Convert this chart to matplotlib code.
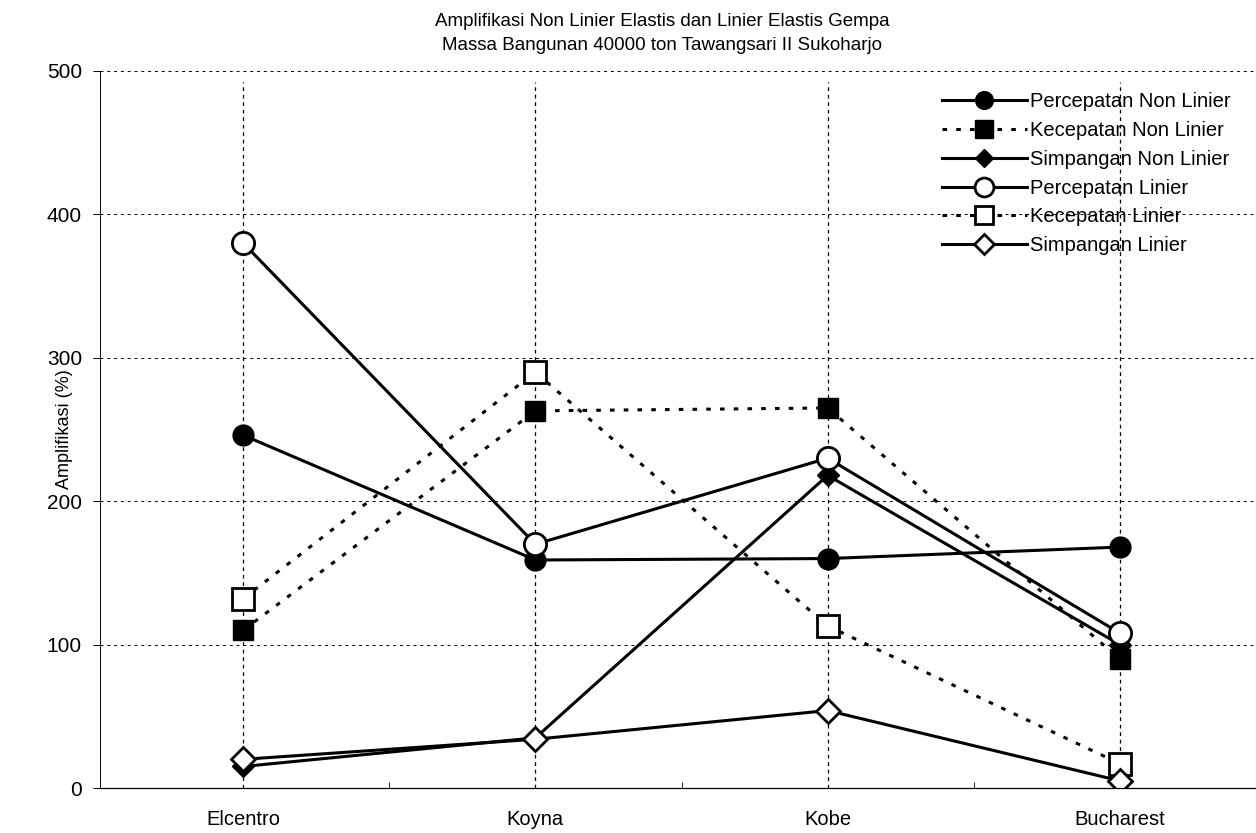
import matplotlib
matplotlib.use('Agg')
from matplotlib import pyplot as plt

plt.rcParams['font.family'] = ['Liberation Sans', 'DejaVu Sans']

gempa = ['Elcentro', 'Koyna', 'Kobe', 'Bucharest']

percepatan_nl = [246, 159, 160, 168]
kecepatan_nl = [110, 263, 265, 90]
simpangan_nl = [15, 35, 218, 100]
percepatan_l = [380, 170, 230, 108]
kecepatan_l = [132, 290, 113, 17]
simpangan_l = [20, 34, 54, 5]

fig = plt.figure(figsize=(12.56, 8.33), dpi=100)
ax = fig.add_axes([100 / 1256, 45 / 833, 1166 / 1256, 717 / 833])

x = range(len(gempa))
dot = (0, (1.5, 3))
lw = 2.2

# garis dan penanda tiap seri
ax.plot(x, percepatan_nl, color='black', lw=lw, marker='o', ms=15,
        mfc='black', mec='black', label='Percepatan Non Linier')
ax.plot(x, kecepatan_nl, color='black', lw=lw, ls=dot, marker='s', ms=15,
        mfc='black', mec='black', label='Kecepatan Non Linier')
ax.plot(x, simpangan_nl, color='black', lw=lw, marker='D', ms=11,
        mfc='black', mec='black', label='Simpangan Non Linier')
ax.plot(x, percepatan_l, color='black', lw=lw, marker='o', ms=16,
        mfc='white', mec='black', mew=2.0, label='Percepatan Linier')
ax.plot(x, kecepatan_l, color='black', lw=lw, ls=dot, marker='s', ms=16,
        mfc='white', mec='black', mew=2.0, label='Kecepatan Linier')
ax.plot(x, simpangan_l, color='black', lw=lw, marker='D', ms=12,
        mfc='white', mec='black', mew=2.0, label='Simpangan Linier')

# grid putus-putus
for v in [100, 200, 300, 400, 500]:
    ax.axhline(v, color='black', lw=0.7, ls=(0, (3, 4)), zorder=0)
for i in x:
    ax.axvline(i, color='black', lw=0.9, ls=(0, (3, 3)), zorder=0, ymax=0.985)

ax.set_ylim(0, 500)
ax.set_xlim(-0.49, 3.50)
ax.set_yticks([0, 100, 200, 300, 400, 500])
ax.set_xticks(list(x))
ax.set_xticklabels(gempa, fontsize=14.5)
ax.set_xticks([0.5, 1.5, 2.5], minor=True)
ax.tick_params(axis='x', which='major', length=0, pad=16)
ax.tick_params(axis='x', which='minor', length=4, direction='in')
ax.tick_params(axis='y', labelsize=15, length=5, width=0.7, pad=8)

for s in ['top', 'right']:
    ax.spines[s].set_visible(False)
ax.spines['left'].set_linewidth(0.7)
ax.spines['bottom'].set_linewidth(0.9)

ax.set_ylabel('Amplifikasi (%)', fontsize=13)
ax.yaxis.set_label_coords(-0.0232, 0.5)

fig.text(662 / 1256, 1 - 22 / 833, 'Amplifikasi Non Linier Elastis dan Linier Elastis Gempa',
         ha='center', va='center', fontsize=13.5)
fig.text(662 / 1256, 1 - 45 / 833, 'Massa Bangunan 40000 ton Tawangsari II Sukoharjo',
         ha='center', va='center', fontsize=13.5)

leg = ax.legend(loc='upper left', frameon=False, fontsize=14.5,
                handlelength=4.2, handletextpad=0.15, labelspacing=0.49,
                markerscale=0.85, borderpad=0, borderaxespad=0)
leg.set_bbox_to_anchor((942 / 1256, 1 - 92 / 833), transform=fig.transFigure)

fig.savefig('out.png', dpi=100, facecolor='white')
